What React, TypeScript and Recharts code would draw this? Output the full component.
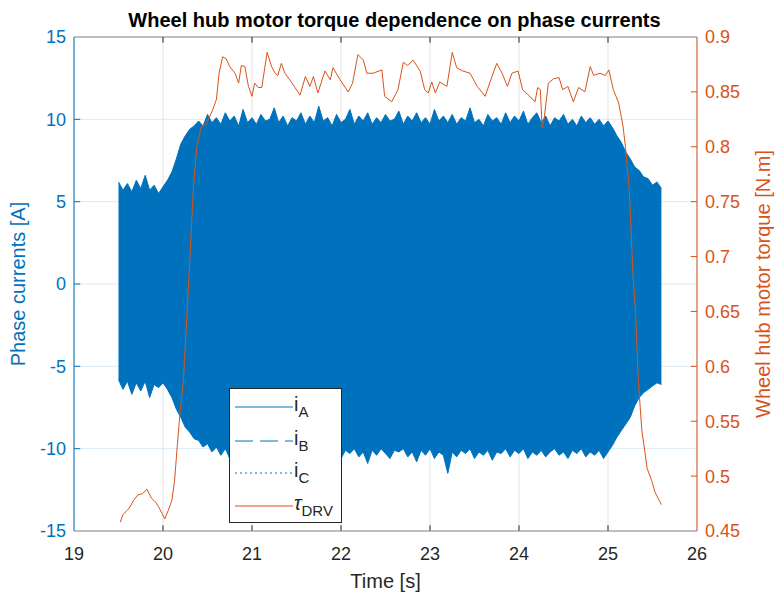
import React from 'react'
import {
  ComposedChart,
  Area,
  Line,
  XAxis,
  YAxis,
  CartesianGrid,
  ReferenceLine,
} from 'recharts'

const BLUE = '#0072BD'
const ORANGE = '#D95319'
const DARK = '#262626'
const FONT = '"Liberation Sans", Arial, Helvetica, sans-serif'

const timeTicks = [19, 20, 21, 22, 23, 24, 25, 26]
const currentTicks = [-15, -10, -5, 0, 5, 10, 15]
const torqueTicks = [0.45, 0.5, 0.55, 0.6, 0.65, 0.7, 0.75, 0.8, 0.85, 0.9]

// the three phase currents are far too dense to draw cycle by cycle here,
// so they are kept as the envelope of the blue band, one sample every 50 ms from 19.5 s
const envStart = 19.5
const envStep = 0.05
const currentUpper = [
  6.2, 5.7, 6.1, 5.6, 6.3, 5.8, 6.6, 5.7, 6.0, 5.5, 5.9, 6.3, 6.8, 7.6, 8.5, 9.0, 9.4, 9.6, 9.9, 9.6,
  10.3, 9.8, 10.1, 9.7, 10.4, 9.9, 10.2, 9.6, 10.6, 9.8, 10.1, 9.7, 10.3, 9.9, 10.0, 10.7, 9.8, 10.2, 9.6, 10.1,
  9.9, 10.4, 9.7, 10.2, 9.8, 10.8, 9.9, 10.1, 9.6, 10.3, 9.8, 10.0, 10.6, 9.7, 10.2, 9.9, 10.4, 9.7, 10.1, 9.8,
  10.3, 9.9, 10.0, 10.5, 9.7, 10.2, 9.9, 10.4, 9.8, 10.1, 9.7, 10.6, 9.9, 10.2, 9.8, 10.3, 9.7, 10.1, 9.9, 10.7,
  9.8, 10.0, 9.6, 10.3, 9.9, 10.1, 9.7, 10.4, 9.8, 10.2, 9.9, 10.5, 9.7, 10.1, 10.4, 9.8, 10.2, 9.6, 10.1, 9.9,
  10.3, 9.7, 10.0, 9.6, 10.2, 9.8, 10.1, 9.7, 10.0, 9.6, 9.9, 9.5, 9.0, 8.6, 8.0, 7.6, 7.1, 6.9, 6.5, 6.4,
  6.0, 6.2, 5.8,
]
const currentLower = [
  -5.8, -6.4, -5.9, -6.7, -6.0, -6.5, -5.9, -6.9, -6.1, -6.3, -6.0, -6.4, -6.9, -7.6, -8.1, -8.7, -9.0, -9.4, -9.5, -9.9,
  -9.7, -10.2, -9.9, -10.4, -10.0, -10.6, -10.1, -10.3, -9.9, -10.7, -10.1, -10.4, -10.0, -10.6, -10.2, -10.0, -10.5, -10.1, -10.8, -10.2,
  -10.0, -10.5, -10.1, -10.3, -10.0, -10.7, -10.1, -10.4, -10.2, -10.0, -10.6, -10.1, -10.3, -10.0, -10.5, -10.2, -10.9, -10.1, -10.4, -10.0,
  -10.3, -10.6, -10.1, -10.2, -10.0, -10.5, -10.2, -10.8, -10.1, -10.4, -10.0, -10.6, -10.2, -10.4, -11.5, -10.2, -10.5, -10.1, -10.3, -10.0,
  -10.6, -10.2, -10.4, -10.1, -10.7, -10.2, -10.3, -10.0, -10.5, -10.1, -10.3, -10.0, -10.6, -10.2, -10.4, -10.1, -10.5, -10.2, -10.0, -10.4,
  -10.2, -10.6, -10.1, -10.3, -10.0, -10.5, -10.2, -10.4, -10.1, -10.6, -10.2, -9.8, -9.3, -8.9, -8.5, -8.1, -7.4, -6.9, -6.6, -6.4,
  -6.2, -6.0, -6.1,
]

// drive torque tau_DRV
const torqueTime = [
  19.52, 19.55, 19.6, 19.63, 19.67, 19.72, 19.77, 19.82, 19.87, 19.92, 19.95, 19.99, 20.02, 20.06, 20.1, 20.13,
  20.16, 20.19, 20.23, 20.26, 20.29, 20.34, 20.38, 20.43, 20.48, 20.55, 20.6, 20.63, 20.67, 20.71, 20.75, 20.81,
  20.85, 20.88, 20.92, 20.96, 21.0, 21.03, 21.07, 21.11, 21.17, 21.22, 21.26, 21.29, 21.33, 21.37, 21.45, 21.54,
  21.6, 21.65, 21.69, 21.74, 21.82, 21.88, 21.91, 21.99, 22.08, 22.13, 22.19, 22.25, 22.29, 22.36, 22.46, 22.49,
  22.57, 22.64, 22.7, 22.75, 22.81, 22.89, 22.94, 22.98, 23.02, 23.06, 23.11, 23.19, 23.25, 23.3, 23.37, 23.45,
  23.53, 23.62, 23.67, 23.75, 23.81, 23.87, 23.92, 23.99, 24.04, 24.12, 24.18, 24.21, 24.24, 24.26, 24.28, 24.33,
  24.39, 24.45, 24.49, 24.55, 24.61, 24.67, 24.74, 24.8, 24.84, 24.91, 24.97, 25.01, 25.06, 25.12, 25.17, 25.2,
  25.24, 25.28, 25.31, 25.34, 25.38, 25.44, 25.49, 25.53, 25.6,
]
const torqueValue = [
  0.458, 0.465, 0.469, 0.472, 0.478, 0.483, 0.484, 0.488, 0.48, 0.476, 0.472, 0.466, 0.461, 0.469, 0.478, 0.496,
  0.527, 0.557, 0.588, 0.633, 0.679, 0.76, 0.8, 0.818, 0.82, 0.832, 0.843, 0.867, 0.882, 0.88, 0.873, 0.867,
  0.858, 0.874, 0.873, 0.855, 0.846, 0.858, 0.854, 0.854, 0.886, 0.873, 0.867, 0.865, 0.876, 0.867, 0.858, 0.847,
  0.864, 0.855, 0.864, 0.849, 0.869, 0.861, 0.872, 0.861, 0.85, 0.858, 0.884, 0.879, 0.867, 0.867, 0.87, 0.846,
  0.841, 0.852, 0.877, 0.874, 0.879, 0.869, 0.852, 0.849, 0.859, 0.849, 0.859, 0.855, 0.886, 0.872, 0.869, 0.867,
  0.855, 0.846, 0.858, 0.876, 0.867, 0.855, 0.867, 0.869, 0.852, 0.846, 0.841, 0.854, 0.852, 0.817, 0.824, 0.858,
  0.862, 0.863, 0.852, 0.855, 0.841, 0.854, 0.85, 0.873, 0.865, 0.867, 0.865, 0.87, 0.852, 0.84, 0.818, 0.797,
  0.76, 0.685, 0.649, 0.588, 0.542, 0.507, 0.496, 0.485, 0.474,
]

const envelope = currentUpper.map((hi, i) => ({
  t: +(envStart + i * envStep).toFixed(2),
  hi,
  lo: currentLower[i],
}))
const torque = torqueTime.map((t, i) => ({ t, tau: torqueValue[i] }))

const fmtTorque = (v: number) => String(Number(v.toFixed(2)))

function LegendRow({ top, dash, color, children }: any) {
  return (
    <div style={{ position: 'absolute', left: 0, top, height: 24, width: 110 }}>
      <svg width={62} height={24} style={{ position: 'absolute', left: 4, top: 0 }}>
        <line x1={1} y1={12} x2={59} y2={12} stroke={color} strokeWidth={1} strokeDasharray={dash} />
      </svg>
      <div style={{ position: 'absolute', left: 64, top: -2, fontSize: 20, color: DARK, whiteSpace: 'nowrap' }}>
        {children}
      </div>
    </div>
  )
}

function PhaseLegend() {
  const sub = { fontSize: 15, position: 'relative' as const, top: 6 }
  return (
    <div
      style={{
        position: 'absolute',
        left: 229,
        top: 388,
        width: 111,
        height: 133,
        border: `1px solid ${DARK}`,
        background: '#fff',
      }}
    >
      <LegendRow top={6} color={BLUE}>
        i<span style={sub}>A</span>
      </LegendRow>
      <LegendRow top={40} color={BLUE} dash="18 7">
        i<span style={sub}>B</span>
      </LegendRow>
      <LegendRow top={72} color={BLUE} dash="2 3">
        i<span style={sub}>C</span>
      </LegendRow>
      <LegendRow top={105} color={ORANGE}>
        <span style={{ fontStyle: 'italic' }}>τ</span>
        <span style={sub}>DRV</span>
      </LegendRow>
    </div>
  )
}

export default function App() {
  return (
    <div style={{ position: 'absolute', left: 0, top: 0, width: 779, height: 599, background: '#fff', fontFamily: FONT }}>
      <div
        style={{
          position: 'absolute',
          left: 0,
          width: 779,
          top: 9,
          textAlign: 'center',
          fontSize: 20,
          fontWeight: 'bold',
          color: '#000',
          paddingLeft: 10,
          boxSizing: 'border-box',
        }}
      >
        Wheel hub motor torque dependence on phase currents
      </div>
      <ComposedChart width={779} height={599} margin={{ top: 37, right: 0, bottom: 0, left: 0 }}>
        <CartesianGrid horizontal={false} stroke="#e3e3e3" yAxisId="left" />
        <CartesianGrid vertical={false} stroke="#dcebf6" yAxisId="left" />
        <XAxis
          dataKey="t"
          type="number"
          domain={[19, 26]}
          ticks={timeTicks}
          allowDataOverflow
          height={68}
          tickSize={0}
          tickMargin={16}
          stroke="#8a8a8a"
          tick={{ fill: DARK, fontSize: 18 }}
          label={{ value: 'Time [s]', position: 'insideBottom', offset: 11, fill: DARK, fontSize: 20 }}
        />
        <YAxis
          yAxisId="left"
          domain={[-15, 15]}
          ticks={currentTicks}
          allowDataOverflow
          width={74}
          tickSize={0}
          tickMargin={8}
          stroke={BLUE}
          tick={{ fill: BLUE, fontSize: 18 }}
          label={{
            value: 'Phase currents [A]',
            angle: -90,
            position: 'insideLeft',
            offset: 18,
            fill: BLUE,
            fontSize: 20,
            style: { textAnchor: 'middle' },
          }}
        />
        <YAxis
          yAxisId="right"
          orientation="right"
          domain={[0.45, 0.9]}
          ticks={torqueTicks}
          allowDataOverflow
          width={82}
          tickSize={0}
          tickMargin={8}
          stroke={ORANGE}
          tickFormatter={fmtTorque}
          tick={{ fill: ORANGE, fontSize: 18 }}
          label={{
            value: 'Wheel hub motor torque [N.m]',
            angle: -90,
            position: 'insideRight',
            offset: 16,
            fill: ORANGE,
            fontSize: 20,
            style: { textAnchor: 'middle' },
          }}
        />
        <Area
          yAxisId="left"
          data={envelope}
          dataKey={(d: any) => [d.lo, d.hi]}
          type="linear"
          stroke={BLUE}
          strokeWidth={1}
          fill={BLUE}
          fillOpacity={1}
          dot={false}
          activeDot={false}
          isAnimationActive={false}
        />
        <Line
          yAxisId="right"
          data={torque}
          dataKey="tau"
          type="linear"
          stroke={ORANGE}
          strokeWidth={1}
          dot={false}
          activeDot={false}
          isAnimationActive={false}
        />
        <ReferenceLine yAxisId="left" y={15} stroke="#8a8a8a" />
        {timeTicks.slice(1, -1).map((t) => (
          <ReferenceLine
            key={'b' + t}
            yAxisId="left"
            segment={[{ x: t, y: -15 }, { x: t, y: -14.65 }]}
            stroke={DARK}
          />
        ))}
        {timeTicks.slice(1, -1).map((t) => (
          <ReferenceLine
            key={'t' + t}
            yAxisId="left"
            segment={[{ x: t, y: 15 }, { x: t, y: 14.65 }]}
            stroke={DARK}
          />
        ))}
        {currentTicks.slice(1, -1).map((v) => (
          <ReferenceLine
            key={'l' + v}
            yAxisId="left"
            segment={[{ x: 19, y: v }, { x: 19.07, y: v }]}
            stroke={BLUE}
          />
        ))}
        {torqueTicks.slice(1, -1).map((v) => (
          <ReferenceLine
            key={'r' + v}
            yAxisId="right"
            segment={[{ x: 25.93, y: v }, { x: 26, y: v }]}
            stroke={ORANGE}
          />
        ))}
      </ComposedChart>
      <PhaseLegend />
    </div>
  )
}
